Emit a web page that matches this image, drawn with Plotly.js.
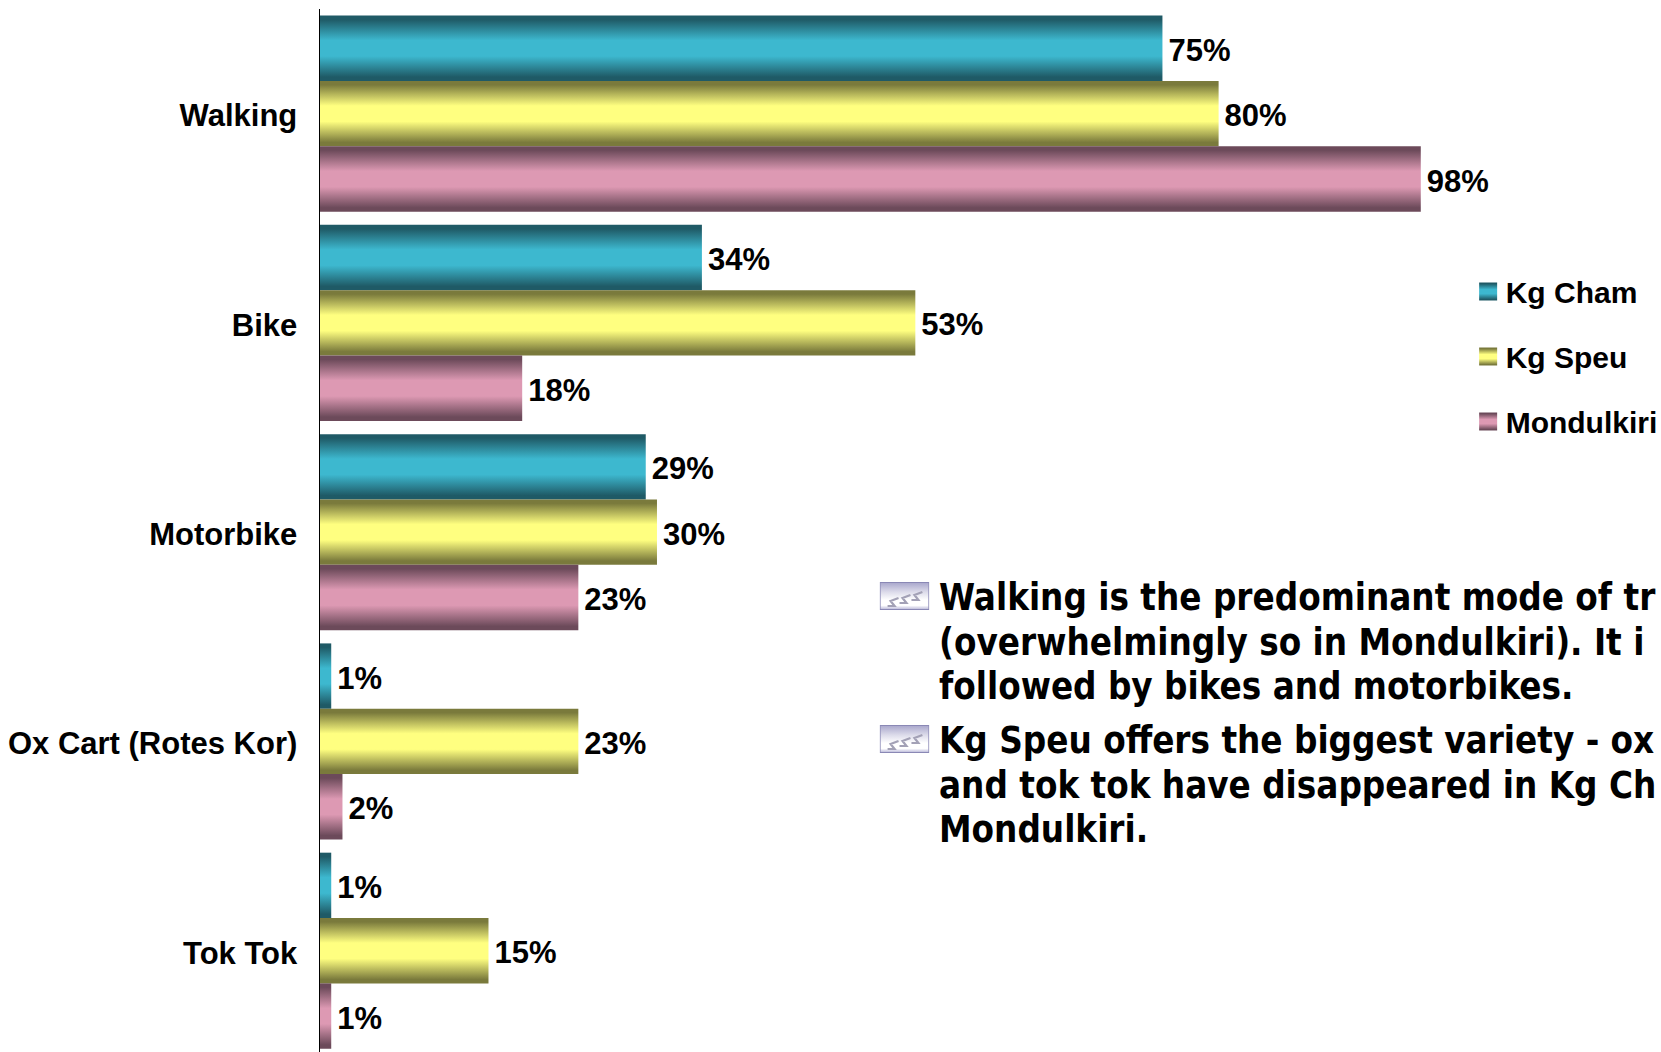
<!DOCTYPE html>
<html>
<head>
<meta charset="utf-8">
<script src="https://cdn.plot.ly/plotly-3.0.1.min.js"></script>
<style>
  html, body { margin: 0; padding: 0; background: #fff; overflow: hidden; }
  #chart { width: 1661px; height: 1052px; }
</style>
</head>
<body>
<div id="chart"></div>
<script>
// Transport modes by province, share of respondents
const modes = ['Walking', 'Bike', 'Motorbike', 'Ox Cart (Rotes Kor)', 'Tok Tok'];
const kgCham = [75, 34, 29, 1, 1];
const kgSpeu = [80, 53, 30, 23, 15];
const mondulkiri = [98, 18, 23, 2, 1];

const seriesNames = ['Kg Cham', 'Kg Speu', 'Mondulkiri'];
const seriesEdge = ['#1f5a66', '#7a7a3c', '#6c4a5a'];
const seriesCentre = ['#3db8cf', '#ffff80', '#dd99b3'];

const noteOne = ['Walking is the predominant mode of tr', '(overwhelmingly so in Mondulkiri). It i', 'followed by bikes and motorbikes.'];
const noteTwo = ['Kg Speu offers the biggest variety - ox', 'and tok tok have disappeared in Kg Ch', 'Mondulkiri.'];

const W = 1661, H = 1052;
const plotLeft = 320, plotTop = 9;
const plotW = W - plotLeft, plotH = H - plotTop;
const barFont = { family: '"Liberation Sans", Arial, sans-serif', size: 31, color: '#000', weight: 700 };
const legendFont = { family: '"Liberation Sans", Arial, sans-serif', size: 30, color: '#000', weight: 700 };
const noteFont = { family: '"DejaVu Sans Condensed", "DejaVu Sans", sans-serif', size: 36.4, color: '#000', weight: 700 };
const notePitch = 44.6;

// paper coordinates are measured across the plot area
const px = v => (v - plotLeft) / plotW;
const py = v => 1 - (v - plotTop) / plotH;

const bullet = 'data:image/svg+xml,' + encodeURIComponent(
  '<svg xmlns="http://www.w3.org/2000/svg" width="50" height="28" viewBox="0 0 50 28">' +
  '<defs><linearGradient id="b" x1="0" y1="0" x2="0" y2="1">' +
  '<stop offset="0" stop-color="#a9a7cc"/><stop offset="0.35" stop-color="#dcdbea"/>' +
  '<stop offset="0.65" stop-color="#fff"/><stop offset="0.85" stop-color="#fff"/><stop offset="1" stop-color="#b9b7d8"/></linearGradient></defs>' +
  '<rect x="0.5" y="0.5" width="49" height="27" fill="url(#b)" stroke="#8a88b5"/>' +
  '<path d="M8 24 H15 L11 19 L19 16 M20 21 H27 L23 16 L31 13 M32 18 H39 L35 13 L43 10" fill="none" stroke="#a3a1b6" stroke-width="2.2"/>' +
  '</svg>');

const noteLine = (text, centre) => ({
  text, xref: 'paper', yref: 'paper', x: px(941), y: py(centre),
  xanchor: 'left', yanchor: 'middle', align: 'left', showarrow: false, font: noteFont
});
const noteAnnotations = [
  ...noteOne.map((t, i) => noteLine(t, 597.4 + i * notePitch)),
  ...noteTwo.map((t, i) => noteLine(t, 740.4 + i * notePitch))
];

const bulletImage = top => ({
  source: bullet, xref: 'paper', yref: 'paper', x: px(883), y: py(top),
  sizex: 50 / plotW, sizey: 28 / plotH, sizing: 'stretch',
  xanchor: 'left', yanchor: 'top', layer: 'above'
});

const series = [kgCham, kgSpeu, mondulkiri];
const traces = series.map((values, i) => ({
  type: 'bar',
  orientation: 'h',
  name: seriesNames[i],
  legendgroup: seriesNames[i],
  x: values,
  y: modes,
  text: values.map(v => v + '%'),
  textposition: 'outside',
  cliponaxis: false,
  textfont: barFont,
  marker: { color: seriesCentre[i], line: { width: 0 } }
}));

const layout = {
  width: W,
  height: H,
  paper_bgcolor: '#fff',
  plot_bgcolor: '#fff',
  margin: { l: plotLeft, r: 0, t: plotTop, b: 0, pad: 0 },
  barmode: 'group',
  bargap: 0.063,
  bargroupgap: 0,
  showlegend: true,
  legend: {
    x: px(1470.5), y: py(265.6), xanchor: 'left', yanchor: 'top',
    font: legendFont, traceorder: 'grouped', tracegroupgap: 23,
    bgcolor: 'rgba(0,0,0,0)', borderwidth: 0
  },
  xaxis: { range: [0, plotW / 11.3], visible: false, fixedrange: true },
  yaxis: {
    type: 'category',
    categoryorder: 'array',
    categoryarray: modes,
    range: [4.484, -0.5],
    showgrid: false,
    zeroline: false,
    showline: true,
    linecolor: '#000',
    linewidth: 1.5,
    ticks: '',
    ticklabelstandoff: 15,
    tickfont: barFont,
    fixedrange: true
  },
  annotations: noteAnnotations,
  images: [bulletImage(582), bulletImage(725)]
};

// Shade every bar and legend swatch with a vertical dark-light-dark cylinder gradient
function applyShading(gd) {
  const svg = gd.querySelector('svg.main-svg');
  const ns = 'http://www.w3.org/2000/svg';
  const defs = svg.querySelector('defs') || svg.insertBefore(document.createElementNS(ns, 'defs'), svg.firstChild);
  seriesNames.forEach((name, i) => {
    const g = document.createElementNS(ns, 'linearGradient');
    g.setAttribute('id', 'cyl' + i);
    g.setAttribute('x1', '0'); g.setAttribute('y1', '0');
    g.setAttribute('x2', '0'); g.setAttribute('y2', '1');
    const e = seriesEdge[i], c = seriesCentre[i];
    [[0, e], [0.06, e], [0.38, c], [0.62, c], [0.94, e], [1, e]].forEach(([o, col]) => {
      const s = document.createElementNS(ns, 'stop');
      s.setAttribute('offset', o);
      s.setAttribute('stop-color', col);
      g.appendChild(s);
    });
    defs.appendChild(g);
  });
  gd.querySelectorAll('.barlayer .trace.bars').forEach((t, i) => {
    t.querySelectorAll('.point path').forEach(p => { p.style.fill = 'url(#cyl' + i + ')'; });
  });
  gd.querySelectorAll('.legend .traces').forEach((t, i) => {
    t.querySelectorAll('.legendpoints path').forEach(p => {
      p.style.fill = 'url(#cyl' + i + ')';
      p.setAttribute('d', 'M9,9H-9V-9H9Z');
      p.setAttribute('transform', 'translate(24.5,0)');
    });
    t.querySelectorAll('.legendtext').forEach(x => {
      x.setAttribute('transform', 'translate(2,0) ' + (x.getAttribute('transform') || ''));
    });
  });
  // Nudge value labels clear of the bar ends, and line up the category labels
  gd.querySelectorAll('.bartext').forEach(t => {
    t.setAttribute('transform', 'translate(3,2) ' + (t.getAttribute('transform') || ''));
  });
  gd.querySelectorAll('.ytick text').forEach(t => {
    t.setAttribute('transform', 'translate(0,2) ' + (t.getAttribute('transform') || ''));
  });
}

Plotly.newPlot('chart', traces, layout, { displayModeBar: false, responsive: false, staticPlot: true })
  .then(applyShading);
</script>
</body>
</html>
